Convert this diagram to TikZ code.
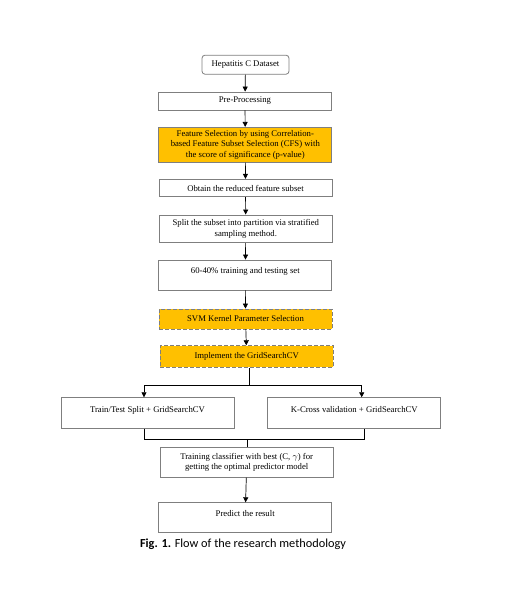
\documentclass[tikz,border=0pt]{standalone}
\usepackage{fontspec}
\setmainfont{Liberation Serif}
\newfontfamily\capfont{Carlito}
\usetikzlibrary{arrows.meta}
\definecolor{boxorange}{HTML}{FFC000}
\definecolor{boxline}{HTML}{7F7F7F}
\tikzset{
  box/.style={draw=boxline, line width=0.8pt, fill=white, minimum width=173pt, inner sep=1pt, align=center, font=\fontsize{8.7}{10.2}\selectfont},
  hibox/.style={box, fill=boxorange},
  dbox/.style={box, fill=boxorange, dashed, dash pattern=on 4pt off 2pt},
  flow/.style={line width=0.7pt, -{Triangle[length=5pt,width=5pt]}},
  link/.style={line width=0.7pt}
}
\begin{document}
\begin{tikzpicture}[x=1pt,y=-1pt]
\useasboundingbox (0,0) rectangle (504,603);
\node[box, minimum width=87pt, minimum height=19pt, rounded corners=3pt] (hep) at (245.5,64.7) {Hepatitis C Dataset};
\node[box, minimum height=18pt] (pre) at (245,101) {Pre-Processing};
\node[hibox, minimum height=35pt] (fs) at (245.3,144.8) {Feature Selection by using Correlation-\\based Feature Subset Selection (CFS) with\\the score of significance (p-value)};
\node[box, minimum height=17.5pt] (obt) at (245.5,188) {Obtain the reduced feature subset};
\node[box, minimum height=27.7pt] (split) at (245.8,228.8) {Split the subset into partition via stratified\\sampling method.};
\node[box, inner ysep=0pt, text height=13.5pt, text depth=16.5pt] (sixty) at (245.3,275) {60-40\% training and testing set};
\node[dbox, minimum height=20pt] (svm) at (245.5,319) {SVM Kernel Parameter Selection};
\node[dbox, minimum height=21.6pt] (impl) at (246.7,356.5) {Implement the GridSearchCV};
\node[box, inner ysep=0pt, text height=14.3pt, text depth=16.3pt] (left) at (147.5,413) {Train/Test Split + GridSearchCV};
\node[box, inner ysep=0pt, text height=14.3pt, text depth=16.3pt] (right) at (354.3,413) {K-Cross validation + GridSearchCV};
\node[box, minimum height=29.6pt] (train) at (246.7,462.5) {Training classifier with best (C, $\gamma$) for\\getting the optimal predictor model};
\node[box, inner ysep=0pt, text height=13.3pt, text depth=16.3pt] (pred) at (245.2,517.5) {Predict the result};
\node[font=\capfont\fontsize{12.3}{14}\selectfont, anchor=base] (cap) at (243,547) {\textbf{Fig. 1.} Flow of the research methodology};

\coordinate (split1) at (249,385);
\coordinate (jl) at (144,385);
\coordinate (jr) at (361.7,385);
\coordinate (bl) at (144,439);
\coordinate (br) at (364,439);
\coordinate (bm) at (247,439);

\draw[flow] (hep) -- (pre);
\draw[flow] (pre) -- (fs);
\draw[flow] (fs) -- (obt);
\draw[flow] (obt) -- (split);
\draw[flow] (split) -- (sixty);
\draw[flow] (sixty) -- (svm);
\draw[flow] (svm) -- (impl);
\draw[link] (impl.south -| split1) -- (split1);
\draw[flow] (split1) -- (jl) -- (jl |- left.north);
\draw[flow] (split1) -- (jr) -- (jr |- right.north);
\draw[link] (left.south -| bl) -- (bl) -- (br) -- (right.south -| br);
\draw[link] (bm) -- (train.north -| bm);
\draw[flow] (train) -- (pred);
\end{tikzpicture}
\end{document}
